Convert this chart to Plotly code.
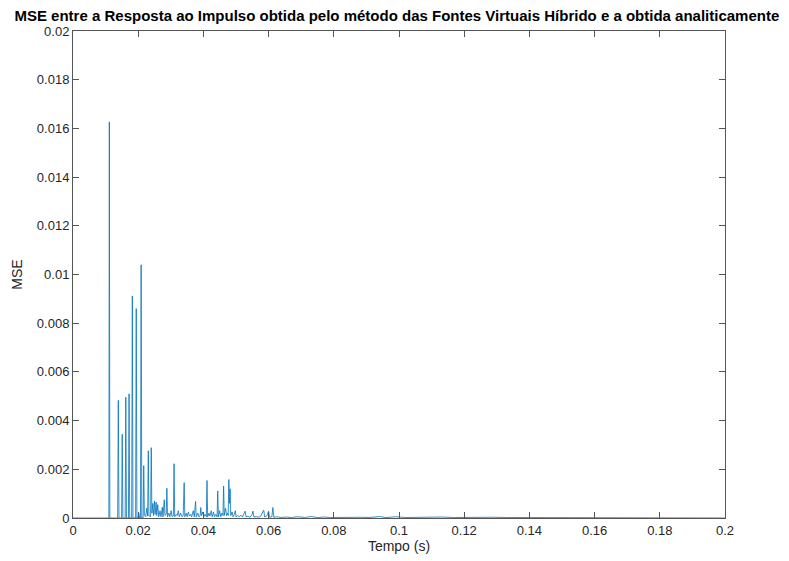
import plotly.graph_objects as go

# Erro quadrático médio ao longo do tempo (s)
tempo = [
    0.0, 0.0110, 0.01115, 0.0113, 0.0137, 0.0139, 0.0141, 0.0149, 0.0151, 0.0153,
    0.0160, 0.0162, 0.0164, 0.0170, 0.0172, 0.0174, 0.0180, 0.0182, 0.0184, 0.0192,
    0.0194, 0.0196, 0.0200, 0.0202, 0.0204, 0.0207, 0.0209, 0.0211, 0.0215, 0.0217,
    0.0219, 0.0223, 0.0226, 0.0229, 0.0231, 0.0233, 0.0238, 0.0240, 0.0242, 0.0245,
    0.0247, 0.0250, 0.0252, 0.0255, 0.0257, 0.0260, 0.0263, 0.0267, 0.0270, 0.0274,
    0.0276, 0.0280, 0.0282, 0.0286, 0.0288, 0.0290, 0.0294, 0.0297, 0.0301, 0.0304,
    0.0308, 0.0310, 0.0312, 0.0316, 0.0320, 0.0323, 0.0326, 0.0330, 0.0334, 0.0338,
    0.0341, 0.0343, 0.0347, 0.0350, 0.0354, 0.0357, 0.0361, 0.0364, 0.0369, 0.0372,
    0.0376, 0.0378, 0.0383, 0.0386, 0.0390, 0.0392, 0.0394, 0.0398, 0.0401, 0.0405,
    0.0409, 0.0411, 0.0413, 0.0417, 0.0420, 0.0424, 0.0427, 0.0431, 0.0434, 0.0438,
    0.0442, 0.0444, 0.0446, 0.0450, 0.0453, 0.0457, 0.0460, 0.0462, 0.0464, 0.0468,
    0.0471, 0.0474, 0.0476, 0.0478, 0.0480, 0.0482, 0.0484, 0.0488, 0.0491, 0.0495,
    0.0498, 0.0500, 0.0505, 0.0510, 0.0515, 0.0520, 0.0528, 0.0531, 0.0537, 0.0542,
    0.0548, 0.0552, 0.0555, 0.0562, 0.0570, 0.0576, 0.0582, 0.0585, 0.0588, 0.0595,
    0.0600, 0.0603, 0.0610, 0.0613, 0.0616, 0.0625, 0.0640, 0.0655, 0.0670, 0.0690,
    0.0710, 0.0730, 0.0750, 0.0770, 0.0790, 0.0820, 0.0850, 0.0880, 0.0910, 0.0940,
    0.0960, 0.0990, 0.1020, 0.1060, 0.1100, 0.1130, 0.1170, 0.1210, 0.1250, 0.1290,
    0.1330, 0.1370, 0.1420, 0.1480, 0.1550, 0.1650, 0.1800, 0.2000,
]
mse = [
    0.0, 0.0, 0.01627, 0.0, 0.0, 0.00483, 0.0, 0.0, 0.00344, 0.0,
    0.0, 0.00496, 0.0, 0.0, 0.00510, 0.0, 0.0, 0.00912, 0.0, 0.0,
    0.00860, 0.0, 0.00005, 0.00020, 0.0, 0.0, 0.01040, 0.0, 0.0, 0.00215,
    0.00010, 0.00005, 0.00040, 0.00008, 0.00276, 0.00010, 0.00005, 0.00289, 0.00020, 0.00060,
    0.00010, 0.00070, 0.00015, 0.00065, 0.00010, 0.00055, 0.00005, 0.00030, 0.00005, 0.00045,
    0.00005, 0.00075, 0.00010, 0.00015, 0.00122, 0.00005, 0.00020, 0.00005, 0.00030, 0.00005,
    0.00010, 0.00223, 0.00005, 0.00015, 0.00010, 0.00030, 0.00005, 0.00020, 0.00005, 0.00010,
    0.00145, 0.00005, 0.00020, 0.00005, 0.00025, 0.00008, 0.00015, 0.00005, 0.00030, 0.00005,
    0.00068, 0.00005, 0.00020, 0.00005, 0.00010, 0.00043, 0.00010, 0.00025, 0.00005, 0.00015,
    0.00005, 0.00154, 0.00005, 0.00020, 0.00008, 0.00030, 0.00005, 0.00025, 0.00005, 0.00015,
    0.00005, 0.00111, 0.00005, 0.00030, 0.00005, 0.00020, 0.00010, 0.00131, 0.00010, 0.00040,
    0.00010, 0.00020, 0.00010, 0.00158, 0.00060, 0.00120, 0.00010, 0.00025, 0.00005, 0.00015,
    0.00030, 0.00005, 0.00010, 0.00005, 0.00012, 0.00004, 0.00028, 0.00004, 0.00008, 0.00003,
    0.00010, 0.00028, 0.00004, 0.00006, 0.00003, 0.00008, 0.00025, 0.00032, 0.00004, 0.00010,
    0.00028, 0.00003, 0.00005, 0.00043, 0.00003, 0.00005, 0.00002, 0.00004, 0.00002, 0.00005,
    0.00002, 0.00006, 0.00002, 0.00004, 0.00002, 0.00003, 0.00002, 0.00003, 0.00002, 0.00006,
    0.00002, 0.00005, 0.00002, 0.00003, 0.00002, 0.00004, 0.00002, 0.00003, 0.00002, 0.00003,
    0.00002, 0.00002, 0.00001, 0.00001, 0.00001, 0.0, 0.0, 0.0,
]

x_ticks = [0, 0.02, 0.04, 0.06, 0.08, 0.1, 0.12, 0.14, 0.16, 0.18, 0.2]
x_labels = ["0", "0.02", "0.04", "0.06", "0.08", "0.1", "0.12", "0.14", "0.16", "0.18", "0.2"]
y_ticks = [0, 0.002, 0.004, 0.006, 0.008, 0.01, 0.012, 0.014, 0.016, 0.018, 0.02]
y_labels = ["0", "0.002", "0.004", "0.006", "0.008", "0.01", "0.012", "0.014", "0.016", "0.018", "0.02"]

FONT = "Liberation Sans, Arial, sans-serif"
AXIS_COLOR = "#555555"

fig = go.Figure(
    go.Scatter(
        x=tempo, y=mse, mode="lines",
        line=dict(color="#0072BD", width=0.8),
        cliponaxis=False,
        hoverinfo="x+y",
    )
)

axis_common = dict(
    showgrid=False, zeroline=False, showline=True, linecolor=AXIS_COLOR, linewidth=1,
    mirror="ticks", ticks="inside", ticklen=6, tickcolor=AXIS_COLOR, tickwidth=1,
    tickfont=dict(family=FONT, size=13, color="#262626"),
    layer="below traces",
)

fig.update_layout(
    width=789, height=561,
    margin=dict(l=73, r=64, t=31, b=37),
    paper_bgcolor="white", plot_bgcolor="white",
    showlegend=False,
    title=dict(
        text="<b>MSE entre a Resposta ao Impulso obtida pelo método das Fontes Virtuais Híbrido e a obtida analiticamente</b>",
        x=0.503, xanchor="center", y=0.972, yanchor="middle",
        font=dict(family=FONT, size=15, color="black"),
    ),
    xaxis=dict(
        range=[0, 0.2], tickvals=x_ticks, ticktext=x_labels,
        title=dict(text="Tempo (s)", font=dict(family=FONT, size=14, color="#262626"), standoff=2),
        **axis_common,
    ),
    yaxis=dict(
        range=[0, 0.02], tickvals=y_ticks, ticktext=y_labels,
        title=dict(text="MSE", font=dict(family=FONT, size=14, color="#262626"), standoff=10),
        **axis_common,
    ),
)

fig.write_html("out.html")
